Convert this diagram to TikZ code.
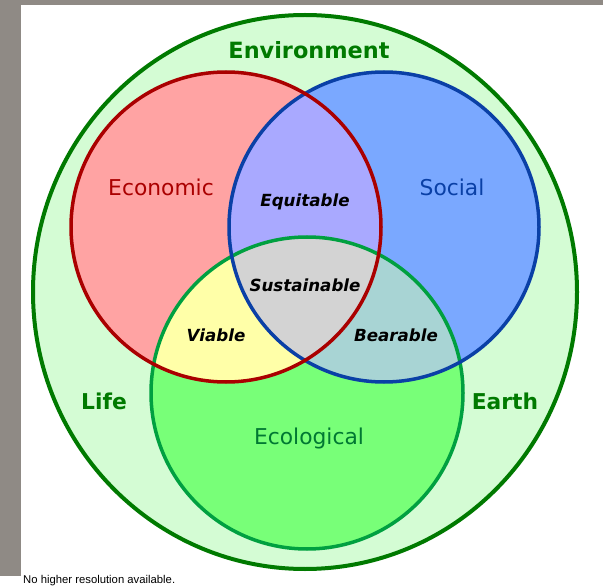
\documentclass[tikz,border=0pt]{standalone}
\usepackage{fontspec}
\setmainfont{DejaVu Sans}
\newfontfamily\arialfont{Liberation Sans}
\definecolor{framegray}{RGB}{143,138,133}
\definecolor{envfill}{RGB}{212,252,212}
\definecolor{envline}{RGB}{0,122,0}
\definecolor{redfill}{RGB}{255,163,163}
\definecolor{redline}{RGB}{170,0,0}
\definecolor{bluefill}{RGB}{122,168,255}
\definecolor{blueline}{RGB}{10,64,166}
\definecolor{greenfill}{RGB}{120,255,120}
\definecolor{greenline}{RGB}{0,160,64}
\definecolor{rbfill}{RGB}{169,169,255}
\definecolor{rgfill}{RGB}{255,255,168}
\definecolor{bgfill}{RGB}{168,212,212}
\definecolor{allfill}{RGB}{211,211,211}
\definecolor{ecotext}{RGB}{0,120,50}
\tikzset{
  lbl/.style={inner sep=0pt, font=\fontsize{21.8}{26}\selectfont},
  boldlbl/.style={lbl, font=\fontsize{21.8}{26}\selectfont\bfseries, text=envline},
  mixlbl/.style={inner sep=0pt, font=\fontsize{16.7}{20}\selectfont\bfseries\itshape, text=black}
}
\def\redc{(226,227) circle [radius=155pt]}
\def\bluec{(384,227) circle [radius=155pt]}
\def\greenc{(307,393) circle [radius=156pt]}
\begin{document}
\begin{tikzpicture}[x=1pt,y=-1pt]
\useasboundingbox (0,0) rectangle (603,588);
\fill[white] (0,0) rectangle (603,588);
\fill[framegray] (0,0) rectangle (603,5);
\fill[framegray] (0,0) rectangle (21,576);
% outer
\fill[envfill] (305,292) ellipse [x radius=272pt, y radius=277pt];
% circles
\fill[redfill] \redc;
\fill[bluefill] \bluec;
\fill[greenfill] \greenc;
\begin{scope}\clip \redc; \fill[rbfill] \bluec; \end{scope}
\begin{scope}\clip \redc; \fill[rgfill] \greenc; \end{scope}
\begin{scope}\clip \bluec; \fill[bgfill] \greenc; \end{scope}
\begin{scope}\clip \redc; \clip \bluec; \fill[allfill] \greenc; \end{scope}
\draw[envline, line width=4pt] (305,292) ellipse [x radius=272pt, y radius=277pt];
\draw[greenline, line width=3.5pt] \greenc;
\draw[blueline, line width=3.5pt] \bluec;
\draw[redline, line width=3.5pt] \redc;
% labels
\node[boldlbl, font=\fontsize{22.4}{26}\selectfont\bfseries] (env) at (309,50) {Environment};
\node[boldlbl] (life) at (104,401) {Life};
\node[boldlbl] (earth) at (505,401) {Earth};
\node[lbl, text=redline] (eco) at (161,187) {Economic};
\node[lbl, text=blueline] (soc) at (452,187) {Social};
\node[lbl, text=ecotext] (ecol) at (309,438) {Ecological};
\node[mixlbl] (equ) at (305,202) {Equitable};
\node[mixlbl] (sus) at (305,285) {Sustainable};
\node[mixlbl] (via) at (216,335) {Viable};
\node[mixlbl] (bea) at (396,335) {Bearable};
\node[inner sep=0pt, anchor=west, font=\arialfont\fontsize{11.3}{13}\selectfont] (note) at (23,581) {No higher resolution available.};
\end{tikzpicture}
\end{document}
